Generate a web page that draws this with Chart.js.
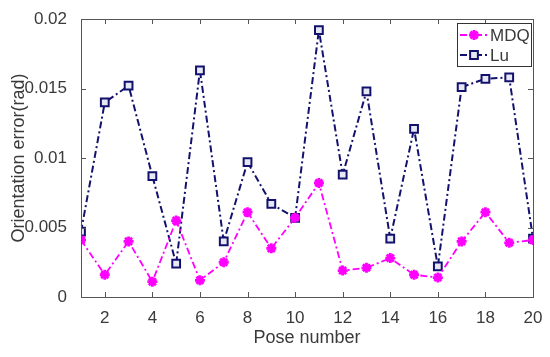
<!DOCTYPE html>
<html>
<head>
<title>Orientation error</title>
<script src="https://cdn.jsdelivr.net/npm/chart.js@4/dist/chart.umd.min.js"></script>
<style>
  html, body { margin: 0; padding: 0; background: #fff; }
  #wrap { width: 550px; height: 357px; }
</style>
</head>
<body>
<div id="wrap"><canvas id="c" width="550" height="357"></canvas></div>
<script>
// data
var poses = [1, 2, 3, 4, 5, 6, 7, 8, 9, 10, 11, 12, 13, 14, 15, 16, 17, 18, 19, 20];
var mdq = [0.0041, 0.0016, 0.0040, 0.0011, 0.0055, 0.0012, 0.0025, 0.0061, 0.0035, 0.0057,
           0.0082, 0.0019, 0.0021, 0.0028, 0.0016, 0.0014, 0.0040, 0.0061, 0.0039, 0.0041];
var lu = [0.0047, 0.0140, 0.0152, 0.0087, 0.0024, 0.0163, 0.0040, 0.0097, 0.0067, 0.0057,
          0.0192, 0.0088, 0.0148, 0.0042, 0.0121, 0.0022, 0.0151, 0.0157, 0.0158, 0.0042];
var seriesNames = ['MDQ', 'Lu'];
var xTicks = [2, 4, 6, 8, 10, 12, 14, 16, 18, 20];
var yTicks = [0, 0.005, 0.01, 0.015, 0.02];
var yTickLabels = ['0', '0.005', '0.01', '0.015', '0.02'];

var axisColor = '#555';
var textColor = '#3a3a3a';
var font = 'Liberation Sans, Arial, sans-serif';

function toXY(ys) {
  return ys.map(function (y, i) { return { x: poses[i], y: y }; });
}

function marker(ctx, style, x, y, ds) {
  ctx.save();
  ctx.setLineDash([]);
  ctx.strokeStyle = ds.pointBorderColor;
  ctx.fillStyle = ds.pointBackgroundColor;
  ctx.lineWidth = ds.pointBorderWidth;
  if (Chart.helpers && Chart.helpers.drawPoint) {
    Chart.helpers.drawPoint(ctx, { pointStyle: style, radius: ds.pointRadius, borderWidth: ds.pointBorderWidth, rotation: 0 }, x, y);
  }
  ctx.restore();
}

// matlab style box, inward ticks and framed legend
var boxPlugin = {
  id: 'box',
  afterDraw: function (chart) {
    var ctx = chart.ctx, a = chart.chartArea;
    var xs = chart.scales.x, ys = chart.scales.y;
    ctx.save();
    ctx.strokeStyle = axisColor;
    ctx.lineWidth = 1;
    ctx.strokeRect(a.left + 0.5, a.top + 0.5, a.right - a.left, a.bottom - a.top);
    ctx.beginPath();
    xTicks.forEach(function (v) {
      var px = Math.round(xs.getPixelForValue(v)) + 0.5;
      ctx.moveTo(px, a.bottom); ctx.lineTo(px, a.bottom - 5);
      ctx.moveTo(px, a.top); ctx.lineTo(px, a.top + 5);
    });
    yTicks.forEach(function (v) {
      var py = Math.round(ys.getPixelForValue(v)) + 0.5;
      ctx.moveTo(a.left, py); ctx.lineTo(a.left + 5, py);
      ctx.moveTo(a.right, py); ctx.lineTo(a.right - 5, py);
    });
    ctx.stroke();

    // legend
    var bw = 74, bh = 43;
    var bx = a.right - bw - 2, by = a.top + 4;
    ctx.fillStyle = '#fff';
    ctx.fillRect(bx, by, bw, bh);
    ctx.strokeStyle = '#333';
    ctx.strokeRect(bx + 0.5, by + 0.5, bw, bh);
    chart.data.datasets.forEach(function (ds, i) {
      var ry = by + 12 + i * 20;
      ctx.save();
      ctx.strokeStyle = ds.borderColor;
      ctx.lineWidth = ds.borderWidth;
      ctx.setLineDash(ds.borderDash);
      ctx.beginPath();
      ctx.moveTo(bx + 3, ry); ctx.lineTo(bx + 31, ry);
      ctx.stroke();
      ctx.restore();
      marker(ctx, ds.pointStyle, bx + 17, ry, ds);
      ctx.fillStyle = textColor;
      ctx.font = '17px ' + font;
      ctx.textBaseline = 'middle';
      ctx.fillText(ds.label, bx + 33, ry + 1);
    });
    ctx.restore();
  }
};

new Chart(document.getElementById('c'), {
  type: 'line',
  data: {
    datasets: [{
      label: seriesNames[0],
      data: toXY(mdq),
      borderColor: '#ff00ff',
      borderWidth: 1.8,
      borderDash: [7, 3, 2, 3],
      pointStyle: 'star',
      pointRadius: 5,
      pointBorderWidth: 2.8,
      pointBorderColor: '#ff00ff',
      pointBackgroundColor: '#ff00ff',
      tension: 0,
      fill: false
    }, {
      label: seriesNames[1],
      data: toXY(lu),
      borderColor: '#12126e',
      borderWidth: 2,
      borderDash: [7, 3, 2, 3],
      pointStyle: 'rect',
      pointRadius: 5.5,
      pointBorderWidth: 2,
      pointBorderColor: '#12126e',
      pointBackgroundColor: '#e8e8f4',
      tension: 0,
      fill: false
    }]
  },
  options: {
    responsive: false,
    animation: false,
    layout: { padding: { left: 0, right: 17, top: 19, bottom: 0 } },
    plugins: { legend: { display: false }, tooltip: { enabled: false } },
    scales: {
      x: {
        type: 'linear',
        min: 1,
        max: 20,
        afterBuildTicks: function (s) { s.ticks = xTicks.map(function (v) { return { value: v }; }); },
        afterFit: function (s) { s.height = 60; },
        grid: { display: false },
        border: { display: false },
        ticks: { color: textColor, font: { family: font, size: 17 }, padding: 3, maxRotation: 0, autoSkip: false },
        title: { display: true, text: 'Pose number', color: textColor, font: { family: font, size: 18 }, padding: { top: 0, bottom: 8 } }
      },
      y: {
        min: 0,
        max: 0.02,
        afterBuildTicks: function (s) { s.ticks = yTicks.map(function (v) { return { value: v }; }); },
        afterFit: function (s) { s.width = 81; },
        grid: { display: false },
        border: { display: false },
        ticks: {
          color: textColor,
          font: { family: font, size: 17 },
          padding: 6,
          callback: function (v) { return yTickLabels[yTicks.indexOf(v)]; }
        },
        title: { display: true, text: 'Orientation error(rad)', color: textColor, font: { family: font, size: 18 }, padding: { top: 8, bottom: 0 } }
      }
    }
  },
  plugins: [boxPlugin]
});
</script>
</body>
</html>
